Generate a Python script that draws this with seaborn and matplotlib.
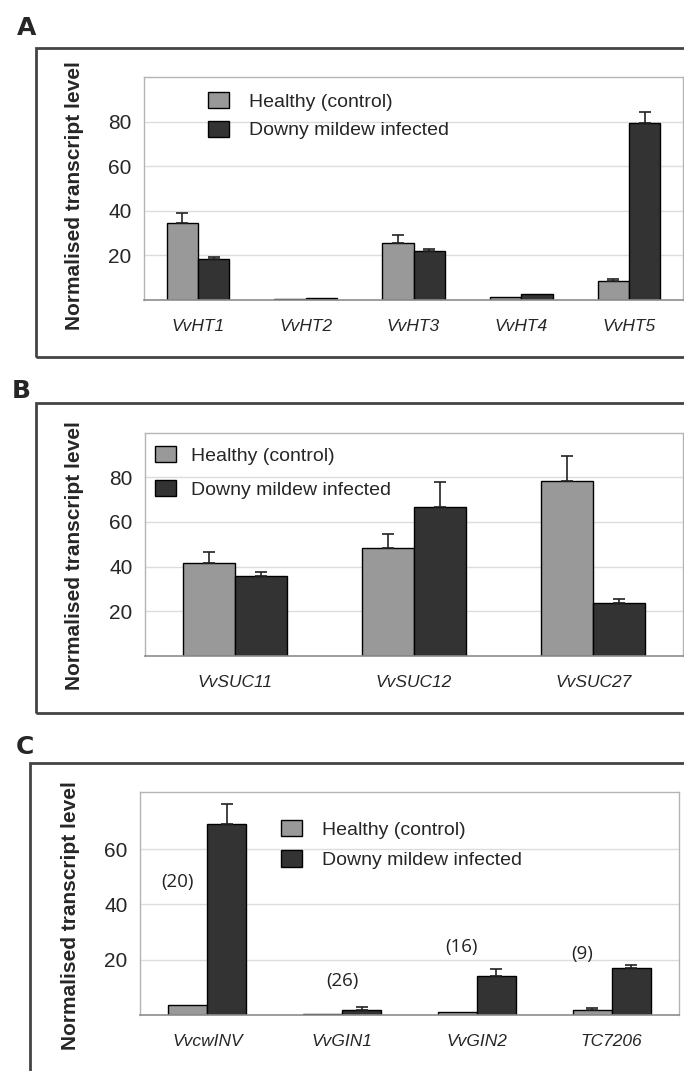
import numpy as np
import pandas as pd
import matplotlib
matplotlib.use('Agg')
import matplotlib.pyplot as plt
import seaborn as sns
from matplotlib.patches import Rectangle

conditions = ['Healthy (control)', 'Downy mildew infected']

# Panel A - hexose transporters
genes_a = ['VvHT1', 'VvHT2', 'VvHT3', 'VvHT4', 'VvHT5']
healthy_a = [34.7, 0.5, 25.8, 1.3, 8.7]
infected_a = [18.2, 0.7, 22.2, 2.5, 79.4]
healthy_err_a = [4.5, 0, 3.3, 0, 0.9]
infected_err_a = [1.3, 0, 0.6, 0, 5.2]

# Panel B - sucrose transporters
genes_b = ['VvSUC11', 'VvSUC12', 'VvSUC27']
healthy_b = [41.5, 48.2, 78.3]
infected_b = [35.8, 66.5, 23.7]
healthy_err_b = [4.9, 6.4, 11.3]
infected_err_b = [1.8, 11.2, 1.9]

# Panel C - invertases
genes_c = ['VvcwINV', 'VvGIN1', 'VvGIN2', 'TC7206']
healthy_c = [3.5, 0.2, 1.0, 1.9]
infected_c = [69.3, 1.9, 14.1, 17.1]
healthy_err_c = [0, 0, 0, 0.5]
infected_err_c = [7.0, 1.0, 2.5, 1.1]
fold_c = ['(20)', '(26)', '(16)', '(9)']

light = '#999999'
dark = '#333333'

sns.set_style('white')
plt.rcParams['font.family'] = ['Liberation Sans', 'DejaVu Sans']

W, H = 684, 1071
fig = plt.figure(figsize=(W / 100, H / 100), dpi=100)


def fx(px):
    return px / W


def fy(py):
    return 1 - py / H


def draw_panel(ax, genes, healthy, infected, herr, ierr, ymax, yticks):
    df = pd.DataFrame({
        'gene': genes * 2,
        'condition': [conditions[0]] * len(genes) + [conditions[1]] * len(genes),
        'value': healthy + infected,
    })
    sns.barplot(data=df, x='gene', y='value', hue='condition', hue_order=conditions,
                palette=[light, dark], saturation=1, width=0.58, edgecolor='black',
                linewidth=1, errorbar=None, legend=False, ax=ax)
    bars = list(ax.containers[:2])
    for cont, errs in zip(bars, [herr, ierr]):
        for bar, e in zip(cont.patches, errs):
            if e > 0:
                x = bar.get_x() + bar.get_width() / 2
                ax.errorbar(x, bar.get_height(), yerr=[[0], [e]], fmt='none',
                            ecolor='#222222', elinewidth=1.2, capsize=4, capthick=1.2)
    ax.set_ylim(0, ymax)
    ax.set_xlim(-0.5, len(genes) - 0.5)
    ax.set_yticks(yticks)
    ax.set_xticks(range(len(genes)))
    ax.set_xticklabels(genes, fontstyle='italic', fontsize=12.5)
    ax.set_xticks(np.arange(-0.5, len(genes), 1), minor=True)
    ax.tick_params(axis='x', which='major', length=0, pad=14)
    ax.tick_params(axis='x', which='minor', length=5, color='#c8c8c8', width=1)
    ax.tick_params(axis='y', length=0, pad=9, labelsize=15)
    ax.set_xlabel('')
    ax.set_ylabel('')
    ax.yaxis.grid(True, color='#dcdcdc', linewidth=1)
    ax.set_axisbelow(True)
    for s in ['top', 'right', 'left']:
        ax.spines[s].set_color('#b4b4b4')
        ax.spines[s].set_linewidth(1)
    ax.spines['bottom'].set_color('#8c8c8c')
    ax.spines['bottom'].set_linewidth(1.2)
    return bars


def add_legend(ax, bars, x, y, spacing, textpad):
    ax.legend(bars, conditions, loc='upper left', bbox_to_anchor=(fx(x), fy(y)),
              bbox_transform=fig.transFigure, frameon=False, fontsize=14,
              handlelength=1.1, handleheight=0.9, handletextpad=textpad,
              labelspacing=spacing, borderpad=0, borderaxespad=0)


# frames around each panel
frame_kw = dict(transform=fig.transFigure, fill=False, edgecolor='#444444', linewidth=2)
fig.patches.append(Rectangle((fx(36), fy(357)), 1.0, (357 - 48) / H, **frame_kw))
fig.patches.append(Rectangle((fx(36), fy(713)), 1.0, (713 - 403) / H, **frame_kw))
fig.patches.append(Rectangle((fx(30), -0.05), 1.0, (H - 763) / H + 0.05, **frame_kw))

# panel A
ax_a = fig.add_axes([fx(144), fy(300), (683 - 144) / W, (300 - 77) / H])
bars_a = draw_panel(ax_a, genes_a, healthy_a, infected_a, healthy_err_a, infected_err_a,
                    100.2, [20, 40, 60, 80])
add_legend(ax_a, bars_a, 208, 92, 0.5, 1.0)

# panel B
ax_b = fig.add_axes([fx(145), fy(656), (683 - 145) / W, (656 - 433) / H])
bars_b = draw_panel(ax_b, genes_b, healthy_b, infected_b, healthy_err_b, infected_err_b,
                    99.8, [20, 40, 60, 80])
add_legend(ax_b, bars_b, 155, 446, 0.8, 0.75)

# panel C
ax_c = fig.add_axes([fx(140), fy(1015), (679 - 140) / W, (1015 - 792) / H])
bars_c = draw_panel(ax_c, genes_c, healthy_c, infected_c, healthy_err_c, infected_err_c,
                    80.7, [20, 40, 60])
add_legend(ax_c, bars_c, 281, 820, 0.6, 1.0)

# fold change labels above panel C bars
fold_x = [-0.22, 0.0, -0.115, -0.215]
fold_y = [48.0, 12.3, 24.6, 22.0]
for i, (lab, dx, yy) in enumerate(zip(fold_c, fold_x, fold_y)):
    ax_c.text(i + dx, yy, lab, ha='center', va='center', fontsize=13.5,
              family=['Open Sans', 'DejaVu Sans'], color='#222222')

# y labels and panel letters
for yc, xc in [(196, 75), (556, 75), (916, 71)]:
    fig.text(fx(xc), fy(yc), 'Normalised transcript level', rotation=90,
             ha='center', va='center', fontsize=15, fontweight='bold')
for lab, x, y in [('A', 17, 35), ('B', 12, 398), ('C', 16, 754)]:
    fig.text(fx(x), fy(y), lab, ha='left', va='baseline', fontsize=18,
             fontweight='bold', family=['DejaVu Sans'])

fig.savefig('out.png', dpi=100)
